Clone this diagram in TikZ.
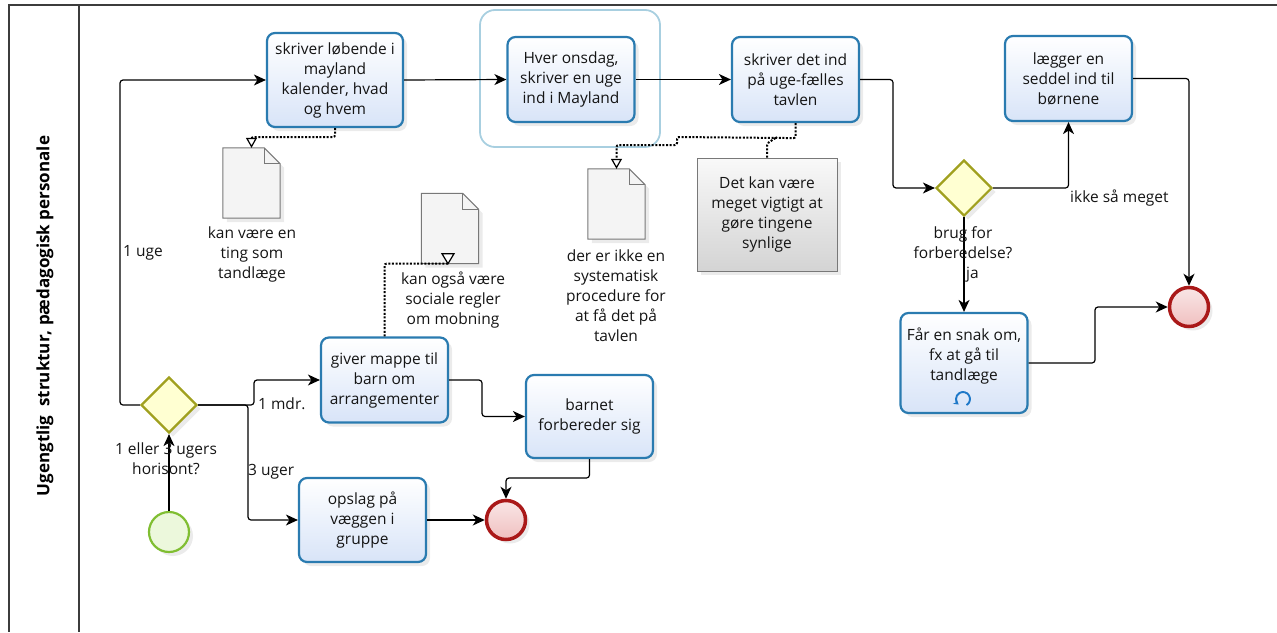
\documentclass[tikz,border=0pt]{standalone}
\usepackage{fontspec}
\setmainfont{Open Sans}
\usetikzlibrary{arrows.meta,shapes.geometric,shadows,calc}

\definecolor{taskborder}{RGB}{42,123,176}
\definecolor{taskfill}{RGB}{216,228,248}
\definecolor{groupc}{RGB}{168,207,224}
\definecolor{gwborder}{RGB}{160,160,30}
\definecolor{gwfill}{RGB}{255,255,210}
\definecolor{startborder}{RGB}{128,190,50}
\definecolor{startfill}{RGB}{236,248,220}
\definecolor{endborder}{RGB}{170,25,25}
\definecolor{endfill}{RGB}{240,192,192}
\definecolor{docborder}{RGB}{120,120,120}
\definecolor{docfill}{RGB}{244,244,244}
\definecolor{loopblue}{RGB}{30,120,200}
\definecolor{txt}{RGB}{20,20,20}
\definecolor{poolline}{RGB}{60,60,60}

\begin{document}
\begin{tikzpicture}[x=1pt,y=-1pt,
  font=\fontsize{15.5}{20}\selectfont,
  shadowed/.style={drop shadow={opacity=0.16, shadow xshift=4pt, shadow yshift=-4pt}},
  task/.style={draw=taskborder, line width=2.2pt, rounded corners=8pt,
    top color=white, bottom color=taskfill, minimum width=127pt, minimum height=85pt,
    align=center, inner sep=2pt, text=txt, shadowed},
  gateway/.style={diamond, draw=gwborder, line width=2.2pt, fill=gwfill,
    minimum width=56pt, minimum height=56pt, inner sep=0pt, shadowed},
  startev/.style={circle, draw=startborder, line width=2.2pt, fill=startfill,
    minimum size=40pt, inner sep=0pt, shadowed},
  endev/.style={circle, draw=endborder, line width=3.5pt, top color=white!60!endfill,
    bottom color=endfill, minimum size=39pt, inner sep=0pt, shadowed},
  docbox/.style={rectangle, minimum width=57pt, minimum height=70pt, inner sep=0pt},
  docdraw/.style={draw=docborder, fill=docfill, line width=1pt, shadowed},
  annot/.style={rectangle, draw=docborder, line width=1pt, top color=white!95!gray,
    bottom color=gray!34, minimum width=140pt, minimum height=113pt, align=center,
    text=txt, shadowed},
  lbl/.style={align=center, text=txt, inner sep=0pt},
  flow/.style={draw=black, line width=1.2pt, rounded corners=3pt,
    -{Stealth[length=12pt,width=11pt,inset=3.5pt]}},
  assoc/.style={line width=2pt, dash pattern=on 2pt off 1.6pt, rounded corners=2pt,
    -{Triangle[fill=white,length=10pt,width=11pt,line width=1.2pt]}},
  assocline/.style={line width=2pt, dash pattern=on 2pt off 1.6pt, rounded corners=2pt},
]
\useasboundingbox (0,0) rectangle (1277,632);

% pool
\draw[poolline, line width=1.5pt] (1277,5) -- (9,5) -- (9,632);
\draw[poolline, line width=1.5pt] (79,5) -- (79,632);
\node[rotate=90, font=\bfseries\fontsize{17}{20}\selectfont, text=black] (pool) at (45,316)
  {Ugengtlig\ \ struktur, pædagogisk personale};

% group
\draw[groupc, line width=1.8pt, rounded corners=15pt] (480,10) rectangle (660,147);

% tasks
\node[task, minimum width=136pt, minimum height=94pt] (t1) at (335,80)
  {skriver løbende i\\mayland\\kalender, hvad\\og hvem};
\node[task] (t2) at (571,79.5) {Hver onsdag,\\skriver en uge\\ind i Mayland};
\node[task] (t3) at (795.5,79.5) {skriver det ind\\på uge-fælles\\tavlen};
\node[task] (t4) at (1068.5,78.5) {lægger en\\seddel ind til\\børnene};
\node[task, minimum height=100pt] (t5) at (964,363) {Får en snak om,\\fx at gå til\\tandlæge\\[-2pt]\phantom{x}};
\node[task] (t6) at (384.5,380) {giver mappe til\\barn om\\arrangementer};
\node[task, minimum height=83pt] (t7) at (589.5,416.5) {barnet\\forbereder sig};
\node[task, minimum height=84pt] (t8) at (362.5,520) {opslag på\\væggen i\\gruppe};

% loop marker
\begin{scope}[shift={(963,399)}, y=1pt]
  \draw[loopblue, line width=1.9pt, -{Stealth[length=5pt,width=6pt]}]
    (-60:7) arc[start angle=-60, end angle=232, radius=7];
\end{scope}

% gateways and events
\node[gateway] (gwl) at (169,405) {};
\node[gateway] (gwr) at (964,188) {};
\node[startev] (start) at (169,532) {};
\node[endev] (endl) at (506,520) {};
\node[endev] (endr) at (1189,307) {};

% documents
\node[docbox] (d1) at (251.5,183) {};
\node[docbox] (d2) at (450,228.5) {};
\node[docbox] (d3) at (616.5,204) {};
\foreach \d in {d1,d2,d3}{
  \filldraw[docdraw] (\d.south west) -- (\d.north west) -- ([xshift=-16pt]\d.north east)
    -- ([yshift=-16pt]\d.north east) -- (\d.south east) -- cycle;
  \draw[docborder, line width=1pt] ([xshift=-16pt]\d.north east)
    -- ([xshift=-16pt,yshift=-16pt]\d.north east) -- ([yshift=-16pt]\d.north east);
}
\node[lbl] (l1) at (252,254) {kan være en\\ting som\\tandlæge};
\node[lbl] (l2) at (453,300) {kan også være\\sociale regler\\om mobning};
\node[lbl] (l3) at (616,296) {der er ikke en\\systematisk\\procedure for\\at få det på\\tavlen};

% annotation
\node[annot] (ann) at (767,214.5) {Det kan være\\meget vigtigt at\\gøre tingene\\synlige};

% sequence flows
\draw[flow] (t1.east) -- (t2.west);
\draw[flow] (t2.east) -- (t3.west);
\draw[flow] (t3.east) -- (893,79.5) |- (gwr.west);
\draw[flow] (gwr.east) -| (t4.south);
\draw[flow] (gwr.south) -- (t5.north);
\draw[flow] (t4.east) -| (endr.north);
\draw[flow] (t5.east) -- (1095,363) |- (endr.west);
\draw[flow] (start.north) -- (gwl.south);
\draw[flow] (gwl.west) -- (120,405) |- (t1.west);
\draw[flow] (gwl.east) -- (254,405) |- (t6.west);
\draw[flow] (gwl.east) -- (248,405) |- (t8.west);
\draw[flow] (t6.east) -- (482,380) |- (t7.west);
\draw[flow] (t7.south) -- (589.5,478) -| (endl.north);
\draw[flow] (t8.east) -- (endl.west);

% flow labels
\node[lbl, anchor=west] (e1) at (123,253) {1 uge};
\node[lbl, anchor=west] (e2) at (258,404) {1 mdr.};
\node[lbl, anchor=west] (e3) at (248,472) {3 uger};
\node[lbl] (g1) at (166,459) {1 eller 3 ugers\\horisont?};
\node[lbl] (g2) at (963,243) {brug for\\forberedelse?};
\node[lbl, anchor=west] (e4) at (966,275) {ja};
\node[lbl, anchor=west] (e5) at (1070,198) {ikke så meget};

% associations
\draw[assoc] (t1.south) -- ++(0,9) -| (d1.north);
\draw[assocline] (t6.north) |- ([xshift=-2pt]d2.south);
\draw[fill=white, line width=1.2pt] ([xshift=-8pt,yshift=10pt]d2.south) -- ([xshift=4pt,yshift=10pt]d2.south)
  -- ([xshift=-2pt]d2.south) -- cycle;
\draw[assoc] (t3.south) -- ++(0,15) -- (677,137) -- (677,145) -| (d3.north);
\draw[assocline] (ann.north) -- ++(0,-14) -- (777,137);
\end{tikzpicture}
\end{document}
